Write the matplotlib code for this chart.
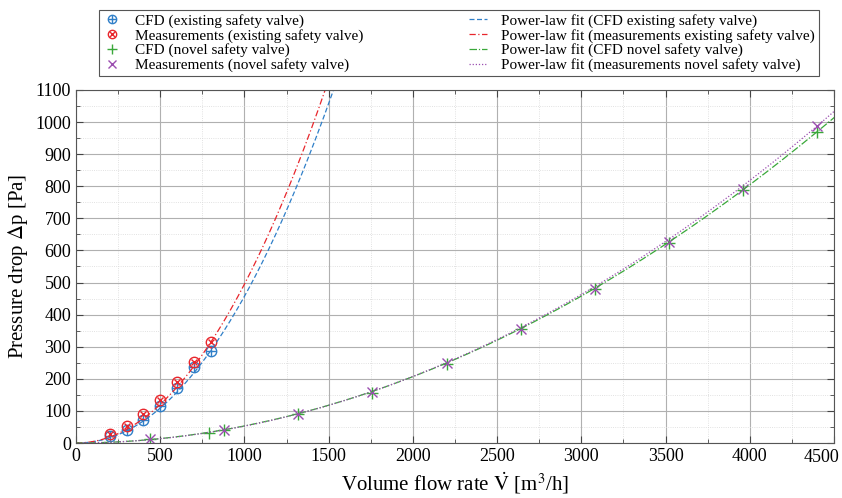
import numpy as np
import matplotlib
matplotlib.use('Agg')
import matplotlib.pyplot as plt
from matplotlib.ticker import MultipleLocator, FuncFormatter
from matplotlib.legend_handler import HandlerTuple

plt.rcParams['font.family'] = ['Liberation Serif', 'DejaVu Serif']
plt.rcParams['mathtext.fontset'] = 'stix'

# existing safety valve
v_exist = [200, 300, 400, 500, 600, 700, 800]
dp_cfd_exist = [23, 41, 72, 116, 170, 238, 288]
dp_meas_exist = [28, 54, 90, 134, 189, 252, 314]

# novel safety valve
v_cfd_novel = [440, 790, 880, 1320, 1760, 2200, 2640, 3080, 3520, 3960, 4400]
dp_cfd_novel = [11, 32, 39, 90, 157, 246, 354, 479, 624, 788, 970]
v_meas_novel = [440, 880, 1320, 1760, 2200, 2640, 3080, 3520, 3960, 4400]
dp_meas_novel = [12, 41, 91, 158, 248, 355, 480, 626, 792, 988]

# power-law fits (dp = dp_ref * (V / V_ref)^n)
fit_cfd_exist = (288.0, 800, 2.07)
fit_meas_exist = (314.0, 800, 2.04)
fit_cfd_novel = (970.0, 4400, 1.96)
fit_meas_novel = (988.0, 4400, 1.98)


def power_law(v, p):
    ref, v_ref, n = p
    return ref * (v / v_ref) ** n


fig = plt.figure(figsize=(8.42, 4.98), dpi=100)
ax = fig.add_axes([76/842, 55/498, 758/842, 353/498])

c_blue = '#2f7fc8'
c_red = '#e8262c'
c_green = '#3aa83a'
c_purple = '#9b4fb0'

# circle + plus / circle + cross markers
a1, = ax.plot(v_exist, dp_cfd_exist, ls='none', marker='o', ms=7.5, mfc='none', mew=1.0, color=c_blue)
b1, = ax.plot(v_exist, dp_cfd_exist, ls='none', marker='+', ms=7.5, mew=1.0, color=c_blue)
a2, = ax.plot(v_exist, dp_meas_exist, ls='none', marker='o', ms=7.5, mfc='none', mew=1.0, color=c_red)
b2, = ax.plot(v_exist, dp_meas_exist, ls='none', marker='x', ms=5, mew=1.0, color=c_red)
h3, = ax.plot(v_cfd_novel, dp_cfd_novel, ls='none', marker='+', ms=9, mew=1.0, color=c_green)
h4, = ax.plot(v_meas_novel, dp_meas_novel, ls='none', marker='x', ms=7, mew=1.0, color=c_purple)

vv = np.linspace(0, 4600, 600)
h5, = ax.plot(vv, power_law(vv, fit_cfd_exist), ls=(0, (4, 2)), lw=0.9, color=c_blue)
h6, = ax.plot(vv, power_law(vv, fit_meas_exist), ls=(0, (5, 2, 1, 2)), lw=0.9, color=c_red)
h7, = ax.plot(vv, power_law(vv, fit_cfd_novel), ls=(0, (6, 1.5, 1, 1.5)), lw=0.9, color=c_green)
h8, = ax.plot(vv, power_law(vv, fit_meas_novel), ls=(0, (1, 1.5)), lw=0.9, color=c_purple)

ax.set_xlim(0, 4500)
ax.set_ylim(0, 1100)
ax.xaxis.set_major_locator(MultipleLocator(500))
ax.xaxis.set_minor_locator(MultipleLocator(250))
ax.yaxis.set_major_locator(MultipleLocator(100))
ax.yaxis.set_minor_locator(MultipleLocator(50))
# last x label is drawn separately so that it stays inside the figure
ax.xaxis.set_major_formatter(FuncFormatter(lambda x, pos: '' if x >= 4500 else f'{x:.0f}'))
ax.annotate('4500', xy=(4500, 0), xycoords='data', xytext=(4, -4.5), textcoords='offset points',
            ha='right', va='top', fontsize=13, annotation_clip=False)
ax.tick_params(which='both', direction='in', top=True, right=True, labelsize=13, color='#444444')
ax.tick_params(which='major', length=5)
ax.tick_params(which='minor', length=3)
ax.grid(which='major', color='#b0b0b0', lw=0.8, ls='-')
ax.grid(which='minor', color='#d8d8d8', lw=0.6, ls=':')
ax.set_axisbelow(True)
for s in ax.spines.values():
    s.set_color('#555555')
    s.set_linewidth(0.8)

ax.set_xlabel(r'Volume flow rate $\dot{\rm V}$ [m$^3$/h]', fontsize=15)
ax.set_ylabel(r'Pressure drop $\Delta$p [Pa]', fontsize=15)

handles = [(a1, b1), (a2, b2), h3, h4, h5, h6, h7, h8]
labels = ['CFD (existing safety valve)',
          'Measurements (existing safety valve)',
          'CFD (novel safety valve)',
          'Measurements (novel safety valve)',
          'Power-law fit (CFD existing safety valve)',
          'Power-law fit (measurements existing safety valve)',
          'Power-law fit (CFD novel safety valve)',
          'Power-law fit (measurements novel safety valve)']
leg = fig.legend(handles, labels, ncol=2, loc='upper left',
                 bbox_to_anchor=(99/842, 1 - 10/498), borderaxespad=0,
                 handler_map={tuple: HandlerTuple(ndivide=1)}, markerscale=0.8,
                 fontsize=11, handlelength=1.2, handletextpad=0.9, labelspacing=0.05,
                 columnspacing=6.9, borderpad=0.26, fancybox=False, framealpha=1)
leg.get_frame().set_edgecolor('#555555')
leg.get_frame().set_linewidth(0.8)

fig.savefig('out.png', dpi=100)
